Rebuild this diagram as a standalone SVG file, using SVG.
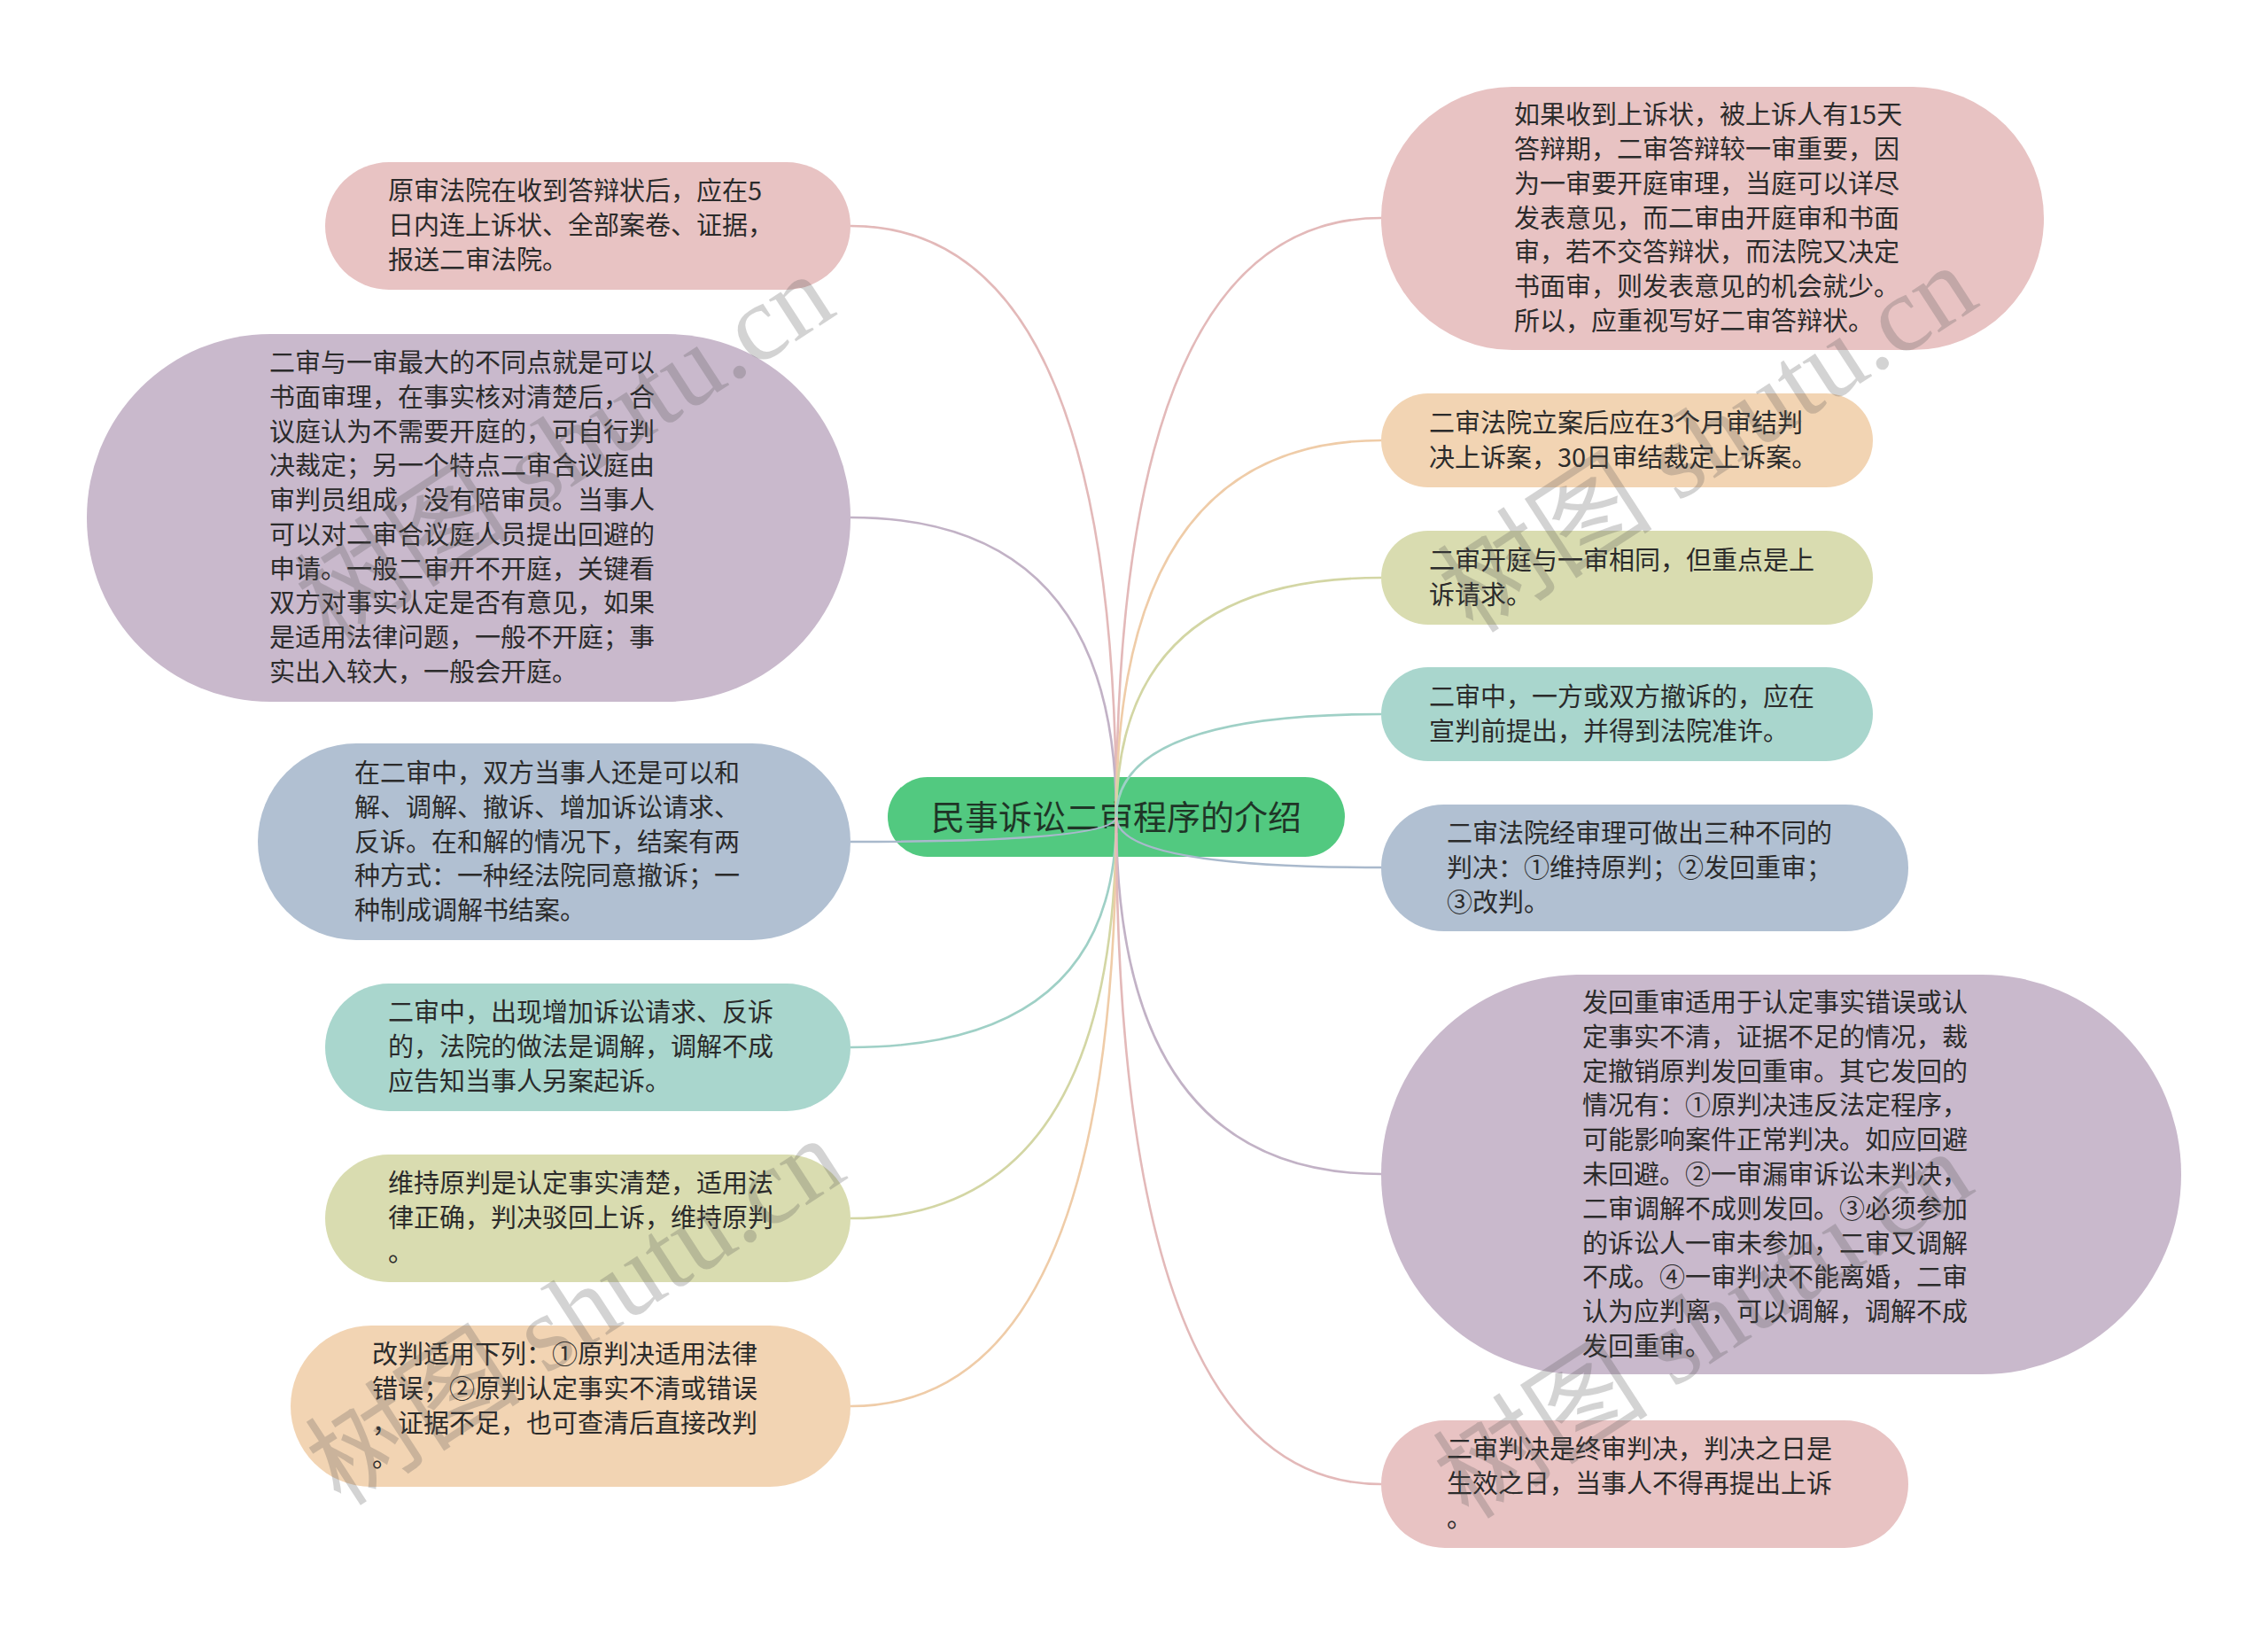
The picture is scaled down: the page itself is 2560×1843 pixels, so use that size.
<svg xmlns="http://www.w3.org/2000/svg" width="2560" height="1843" viewBox="0 0 2560 1843">
<style>
.t{font-family:"Noto Sans CJK SC","Noto Sans",sans-serif;font-size:29px;fill:#2b2b2b}
.c{font-family:"Noto Sans CJK SC","Noto Sans",sans-serif;font-size:38px;fill:#1f3527;text-anchor:middle}
.pink{fill:#e8c3c3}.purple{fill:#c9b9cc}.blue{fill:#b1c0d2}.teal{fill:#a9d6cd}.olive{fill:#d9dcb0}.peach{fill:#f2d4b3}
.ln{fill:none;stroke-width:2.6}
.wm{font-family:"Liberation Serif","Noto Sans CJK SC",serif;font-size:122px;fill:#555;opacity:0.25;text-anchor:middle}
</style>
<rect width="2560" height="1843" fill="#ffffff"/>
<g id="center">
<rect x="1002" y="877" width="516" height="90" rx="45" fill="#52c980"/>
<text class="c" x="1260" y="936">民事诉讼二审程序的介绍</text>
</g>
<g id="connectors">
<path class="ln" stroke="#e3b9b9" d="M1260 922 Q1260 255 960 255"/>
<path class="ln" stroke="#c2b2c6" d="M1260 922 Q1260 584 960 584"/>
<path class="ln" stroke="#a9b9cc" d="M1260 922 Q1260 950 960 950"/>
<path class="ln" stroke="#9fd0c6" d="M1260 922 Q1260 1182 960 1182"/>
<path class="ln" stroke="#d3d6a4" d="M1260 922 Q1260 1375 960 1375"/>
<path class="ln" stroke="#efcca8" d="M1260 922 Q1260 1587 960 1587"/>
<path class="ln" stroke="#e3b9b9" d="M1260 922 Q1260 246 1559 246"/>
<path class="ln" stroke="#efcca8" d="M1260 922 Q1260 497 1559 497"/>
<path class="ln" stroke="#d3d6a4" d="M1260 922 Q1260 652 1559 652"/>
<path class="ln" stroke="#9fd0c6" d="M1260 922 Q1260 806 1559 806"/>
<path class="ln" stroke="#a9b9cc" d="M1260 922 Q1260 979 1559 979"/>
<path class="ln" stroke="#c2b2c6" d="M1260 922 Q1260 1325 1559 1325"/>
<path class="ln" stroke="#e3b9b9" d="M1260 922 Q1260 1675 1559 1675"/>
</g>
<g id="L1">
<rect class="pink" x="367" y="183" width="593" height="144" rx="72"/>
<text class="t"><tspan x="438" y="226">原审法院在收到答辩状后，应在5</tspan><tspan x="438" y="265">日内连上诉状、全部案卷、证据，</tspan><tspan x="438" y="304">报送二审法院。</tspan></text>
</g>
<g id="L2">
<rect class="purple" x="98" y="377" width="862" height="415" rx="207"/>
<text class="t"><tspan x="304" y="420">二审与一审最大的不同点就是可以</tspan><tspan x="304" y="459">书面审理，在事实核对清楚后，合</tspan><tspan x="304" y="498">议庭认为不需要开庭的，可自行判</tspan><tspan x="304" y="536">决裁定；另一个特点二审合议庭由</tspan><tspan x="304" y="575">审判员组成，没有陪审员。当事人</tspan><tspan x="304" y="614">可以对二审合议庭人员提出回避的</tspan><tspan x="304" y="653">申请。一般二审开不开庭，关键看</tspan><tspan x="304" y="691">双方对事实认定是否有意见，如果</tspan><tspan x="304" y="730">是适用法律问题，一般不开庭；事</tspan><tspan x="304" y="769">实出入较大，一般会开庭。</tspan></text>
</g>
<g id="L3">
<rect class="blue" x="291" y="839" width="669" height="222" rx="111"/>
<text class="t"><tspan x="400" y="883">在二审中，双方当事人还是可以和</tspan><tspan x="400" y="922">解、调解、撤诉、增加诉讼请求、</tspan><tspan x="400" y="961">反诉。在和解的情况下，结案有两</tspan><tspan x="400" y="999">种方式：一种经法院同意撤诉；一</tspan><tspan x="400" y="1038">种制成调解书结案。</tspan></text>
</g>
<g id="L4">
<rect class="teal" x="367" y="1110" width="593" height="144" rx="72"/>
<text class="t"><tspan x="438" y="1153">二审中，出现增加诉讼请求、反诉</tspan><tspan x="438" y="1192">的，法院的做法是调解，调解不成</tspan><tspan x="438" y="1231">应告知当事人另案起诉。</tspan></text>
</g>
<g id="L5">
<rect class="olive" x="367" y="1303" width="593" height="144" rx="72"/>
<text class="t"><tspan x="438" y="1346">维持原判是认定事实清楚，适用法</tspan><tspan x="438" y="1385">律正确，判决驳回上诉，维持原判</tspan><tspan x="438" y="1424">。</tspan></text>
</g>
<g id="L6">
<rect class="peach" x="328" y="1496" width="632" height="182" rx="91"/>
<text class="t"><tspan x="420" y="1539">改判适用下列：①原判决适用法律</tspan><tspan x="420" y="1578">错误；②原判认定事实不清或错误</tspan><tspan x="420" y="1617">，证据不足，也可查清后直接改判</tspan><tspan x="420" y="1656">。</tspan></text>
</g>
<g id="R1">
<rect class="pink" x="1559" y="98" width="748" height="297" rx="148"/>
<text class="t"><tspan x="1709" y="140">如果收到上诉状，被上诉人有15天</tspan><tspan x="1709" y="179">答辩期，二审答辩较一审重要，因</tspan><tspan x="1709" y="218">为一审要开庭审理，当庭可以详尽</tspan><tspan x="1709" y="257">发表意见，而二审由开庭审和书面</tspan><tspan x="1709" y="295">审，若不交答辩状，而法院又决定</tspan><tspan x="1709" y="334">书面审，则发表意见的机会就少。</tspan><tspan x="1709" y="373">所以，应重视写好二审答辩状。</tspan></text>
</g>
<g id="R2">
<rect class="peach" x="1559" y="444" width="555" height="106" rx="53"/>
<text class="t"><tspan x="1613" y="488">二审法院立案后应在3个月审结判</tspan><tspan x="1613" y="527">决上诉案，30日审结裁定上诉案。</tspan></text>
</g>
<g id="R3">
<rect class="olive" x="1559" y="599" width="555" height="106" rx="53"/>
<text class="t"><tspan x="1613" y="643">二审开庭与一审相同，但重点是上</tspan><tspan x="1613" y="682">诉请求。</tspan></text>
</g>
<g id="R4">
<rect class="teal" x="1559" y="753" width="555" height="106" rx="53"/>
<text class="t"><tspan x="1613" y="797">二审中，一方或双方撤诉的，应在</tspan><tspan x="1613" y="836">宣判前提出，并得到法院准许。</tspan></text>
</g>
<g id="R5">
<rect class="blue" x="1559" y="908" width="595" height="143" rx="71"/>
<text class="t"><tspan x="1633" y="951">二审法院经审理可做出三种不同的</tspan><tspan x="1633" y="990">判决：①维持原判；②发回重审；</tspan><tspan x="1633" y="1029">③改判。</tspan></text>
</g>
<g id="R6">
<rect class="purple" x="1559" y="1100" width="903" height="451" rx="225"/>
<text class="t"><tspan x="1786" y="1142">发回重审适用于认定事实错误或认</tspan><tspan x="1786" y="1181">定事实不清，证据不足的情况，裁</tspan><tspan x="1786" y="1220">定撤销原判发回重审。其它发回的</tspan><tspan x="1786" y="1258">情况有：①原判决违反法定程序，</tspan><tspan x="1786" y="1297">可能影响案件正常判决。如应回避</tspan><tspan x="1786" y="1336">未回避。②一审漏审诉讼未判决，</tspan><tspan x="1786" y="1375">二审调解不成则发回。③必须参加</tspan><tspan x="1786" y="1414">的诉讼人一审未参加，二审又调解</tspan><tspan x="1786" y="1452">不成。④一审判决不能离婚，二审</tspan><tspan x="1786" y="1491">认为应判离，可以调解，调解不成</tspan><tspan x="1786" y="1530">发回重审。</tspan></text>
</g>
<g id="R7">
<rect class="pink" x="1559" y="1603" width="595" height="144" rx="72"/>
<text class="t"><tspan x="1633" y="1646">二审判决是终审判决，判决之日是</tspan><tspan x="1633" y="1685">生效之日，当事人不得再提出上诉</tspan><tspan x="1633" y="1724">。</tspan></text>
</g>
<g id="watermark">
<text class="wm" transform="translate(660 540) rotate(-33)">树图 shutu.cn</text>
<text class="wm" transform="translate(1950 530) rotate(-33)">树图 shutu.cn</text>
<text class="wm" transform="translate(672 1515) rotate(-33)">树图 shutu.cn</text>
<text class="wm" transform="translate(1945 1530) rotate(-33)">树图 shutu.cn</text>
</g>
</svg>
